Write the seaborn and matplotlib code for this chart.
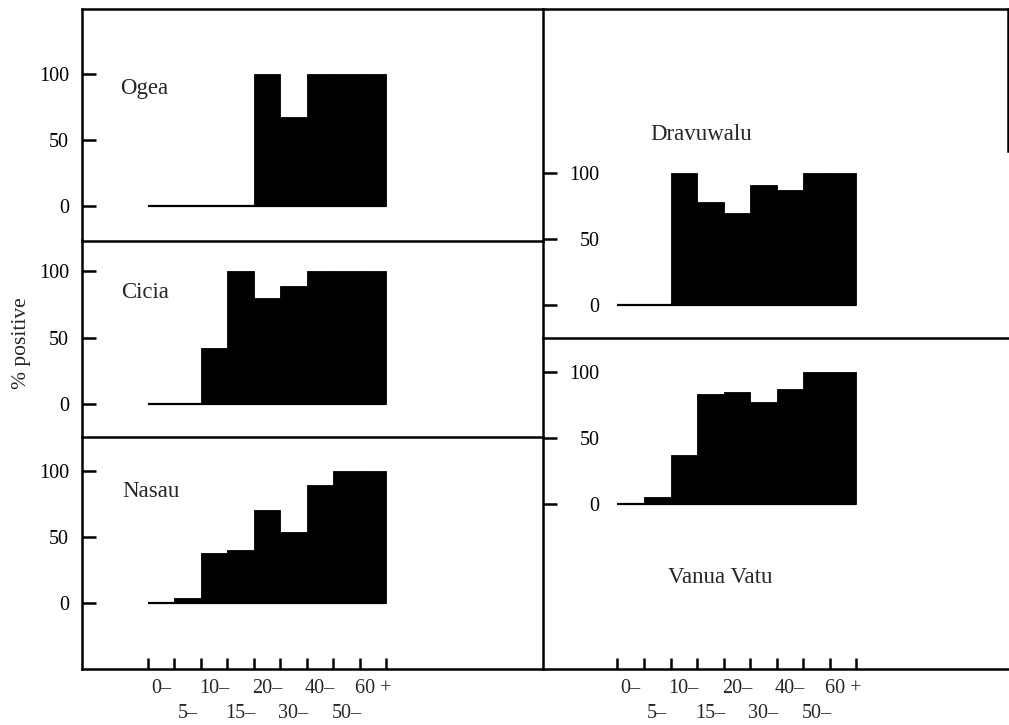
import numpy as np
import matplotlib
matplotlib.use("Agg")
import matplotlib.pyplot as plt
import seaborn as sns

# ─── Data (% positive by age group) ─────────────────────────────────────────────
ages = ["0–", "5–", "10–", "15–", "20–", "30–", "40–", "50–", "60 +"]
ogea = [0, 0, 0, 0, 100, 67, 100, 100, 100]
cicia = [0, 0, 42, 100, 80, 89, 100, 100, 100]
nasau = [0, 4, 38, 40, 70, 54, 89, 100, 100]
dravuwalu = [0, 0, 100, 78, 70, 91, 87, 100, 100]
vanua_vatu = [0, 5, 37, 83, 85, 77, 87, 100, 100]

sns.set_style("white")
plt.rcParams["font.family"] = ["Liberation Serif", "DejaVu Serif"]
plt.rcParams["font.size"] = 14.5

W, H = 1009, 725
LW = 1.8


def box(x0, y0, x1, y1):
    return [x0 / W, 1 - y1 / H, (x1 - x0) / W, (y1 - y0) / H]


def panel(fig, rect, vals, name, name_xy, ylim, xlim, side, spines, bottom_ticks):
    ax = fig.add_axes(rect)
    sns.barplot(x=ages, y=vals, color="black", width=1.0, saturation=1,
                errorbar=None, edgecolor="black", linewidth=0.6, ax=ax)
    n = len(ages)
    ax.hlines(0, -0.5, n - 0.5, color="black", lw=1.6)
    ax.set_xlim(*xlim)
    ax.set_ylim(*ylim)
    ax.set_xlabel("")
    ax.set_ylabel("")
    # transparent background so neighbouring panels don't hide shared borders
    ax.patch.set_visible(False)

    for s in ax.spines.values():
        s.set_visible(False)
    for s in spines:
        ax.spines[s].set_visible(True)
        ax.spines[s].set_color("black")
        ax.spines[s].set_linewidth(LW)

    ax.set_yticks([0, 50, 100])
    pad = 9 if side == "left" else -41
    ax.tick_params(axis="y", left=True, direction="in", length=10, width=LW,
                   pad=pad, labelsize=14.5, colors="black")

    if bottom_ticks:
        edges = np.arange(n + 1) - 0.5
        ax.set_xticks(edges, [""] * (n + 1))
        ax.set_xticks(np.arange(n), ages, minor=True)
        ax.tick_params(axis="x", which="major", bottom=True, direction="in",
                       length=8, width=LW, colors="black")
        ax.tick_params(axis="x", which="minor", bottom=True, length=0,
                       labelsize=14.5)
        # staggered labels: every second one on a lower row
        for i, tick in enumerate(ax.xaxis.get_minor_ticks()):
            tick.set_pad(7 if i % 2 == 0 else 25)
    else:
        ax.set_xticks([])

    ax.text(name_xy[0], name_xy[1], name, ha="left", va="center", fontsize=16.5)
    return ax


fig = plt.figure(figsize=(W / 100, H / 100), dpi=100, facecolor="white")

XL = (-2.99, 14.4)
XR = (-3.32, 14.19)

panel(fig, box(81.7, 9, 542.5, 240.5), ogea, "Ogea", (-1.55, 89),
      (-26.2, 148.8), XL, "left", ["left", "top", "bottom"], False)
panel(fig, box(81.7, 240.5, 542.5, 437), cicia, "Cicia", (-1.49, 84),
      (-24.9, 123.2), XL, "left", ["left", "bottom"], False)
panel(fig, box(81.7, 437, 542.5, 669.3), nasau, "Nasau", (-1.44, 84.5),
      (-49.7, 125.3), XL, "left", ["left", "bottom"], True)

ax_d = panel(fig, box(542.5, 9, 1007.5, 338.3), dravuwalu, "Dravuwalu",
             (0.74, 129), (-25.2, 224.2), XR, "right",
             ["left", "top", "bottom", "right"], False)
ax_d.spines["right"].set_bounds(117, 224.2)
panel(fig, box(542.5, 338.3, 1007.5, 669.3), vanua_vatu, "Vanua Vatu",
      (1.42, -56), (-125.2, 125.5), XR, "right", ["left", "bottom"], True)

fig.text(21.7 / W, 1 - 343 / H, "% positive", rotation=90,
         ha="center", va="center", fontsize=15.5)

fig.savefig("out.png", dpi=100, facecolor="white")
